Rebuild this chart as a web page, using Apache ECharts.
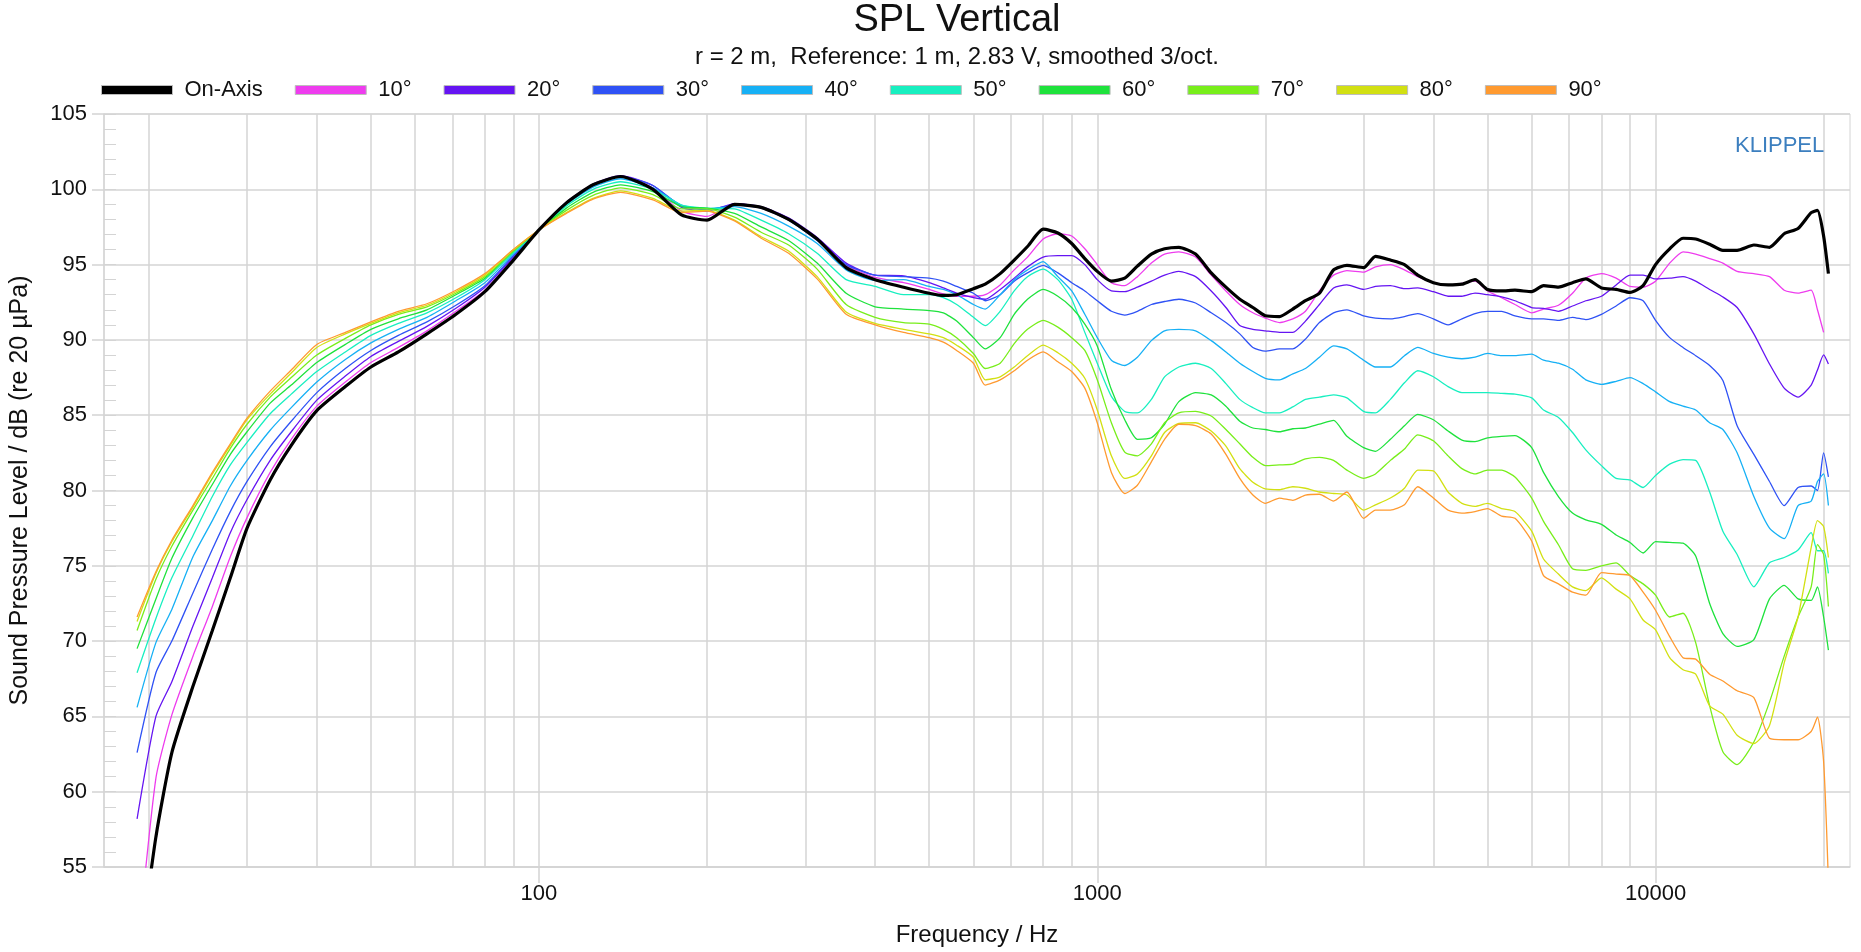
<!DOCTYPE html>
<html>
<head>
<meta charset="utf-8">
<title>SPL Vertical</title>
<script src="https://cdn.jsdelivr.net/npm/echarts@6/dist/echarts.min.js"></script>
<style>
  html, body { margin: 0; padding: 0; background: #fff; }
  #chart { width: 1861px; height: 952px; }
</style>
</head>
<body>
<div id="chart"></div>
<script>
// frequencies (Hz), shared by all curves
const freqs = [
  19.06, 20.6, 22, 24, 26, 28, 30, 33, 36, 40, 45, 50, 56, 63, 71, 80, 90,
  100, 112, 125, 140, 160, 180, 200, 224, 250, 280, 315, 355, 400, 450,
  500, 530, 560, 600, 630, 670, 710, 750, 800, 850, 900, 950, 1000, 1060, 1120, 1180, 1250, 1320, 1400,
  1500, 1600, 1700, 1800, 1900, 2000, 2120, 2240, 2360,
  2500, 2650, 2800, 3000, 3150, 3350, 3550, 3750, 4000, 4250, 4500, 4750, 5000, 5300, 5600, 6000, 6300,
  6700, 7100, 7500, 8000, 8500, 9000, 9500, 10000, 10600, 11200, 11800, 12500, 13200, 14000, 15000,
  16000, 17000, 18000, 19000, 19500, 20000, 20400
];

// SPL in dB, one array per angle
const onAxis = [
  47.7, 57.0, 62.6, 67.0, 70.7, 74.2, 77.5, 80.7, 83.0, 85.3, 86.9, 88.2, 89.2, 90.4, 91.7, 93.2, 95.3,
  97.3, 99.1, 100.3, 100.85, 100.0, 98.3, 97.95, 99.0, 98.8, 98.0, 96.7, 94.8, 94.0, 93.5,
  93.1, 92.95, 93.0, 93.4, 93.7, 94.4, 95.3, 96.2, 97.35, 97.1, 96.4, 95.4, 94.55, 93.9, 94.1, 94.9, 95.7, 96.05, 96.15,
  95.7, 94.45, 93.5, 92.7, 92.15, 91.6, 91.55, 92.05, 92.6,
  93.1, 94.65, 94.95, 94.8, 95.55, 95.3, 95.0, 94.3, 93.8, 93.65, 93.7, 94.0, 93.35, 93.25, 93.3, 93.2,
  93.6, 93.5, 93.8, 94.05, 93.45, 93.35, 93.15, 93.6, 95.0, 96.05, 96.75, 96.7, 96.35, 95.95, 95.95,
  96.3, 96.15, 97.05, 97.4, 98.45, 98.6, 96.9, 94.4
];
const deg10 = [
  49.1, 60.9, 65.1, 69.0, 72.3, 75.6, 78.2, 81.2, 83.4, 85.6, 87.2, 88.5, 89.5, 90.6, 91.9, 93.3, 95.4,
  97.3, 99.1, 100.3, 100.85, 100.1, 98.55, 98.2, 99.05, 98.8, 98.05, 96.75, 94.95, 94.15, 93.8,
  93.35, 93.05, 92.9, 92.9, 93.0, 93.65, 94.65, 95.5, 96.7, 97.05, 96.9, 96.05, 95.0, 93.8, 93.6, 94.2, 95.1, 95.7, 95.85,
  95.5, 94.3, 93.25, 92.35, 91.8, 91.45, 91.15, 91.4, 91.9,
  93.25, 94.3, 94.6, 94.5, 94.85, 95.0, 94.65, 94.2, 93.8, 93.65, 93.75, 93.9, 93.25, 92.8, 92.35, 91.8,
  92.05, 92.3, 93.1, 94.1, 94.4, 94.1, 93.55, 93.5, 93.9, 95.1, 95.85, 95.7, 95.4, 95.1, 94.55,
  94.4, 94.2, 93.3, 93.1, 93.3, 92.0, 90.5
];
const deg20 = [
  58.2, 65.0, 67.3, 71.0, 74.2, 77.2, 79.4, 82.0, 83.9, 86.0, 87.6, 88.9, 89.9, 90.9, 92.1, 93.5, 95.5,
  97.3, 99.15, 100.35, 100.9, 100.25, 98.8, 98.55, 99.05, 98.85, 98.1, 96.8, 95.1, 94.3, 94.25,
  93.8, 93.45, 93.1, 92.8, 92.7, 93.35, 94.1, 94.85, 95.5, 95.6, 95.6, 95.0, 94.0, 93.25, 93.2, 93.5, 93.9, 94.3, 94.55,
  94.2, 93.25, 92.15, 90.95, 90.7, 90.6, 90.5, 90.5, 91.25,
  92.35, 93.45, 93.65, 93.35, 93.55, 93.6, 93.4, 93.45, 93.2, 92.9, 92.9, 93.1, 93.0, 92.85, 92.6, 92.15,
  92.1, 91.9, 92.25, 92.6, 92.9, 93.65, 94.3, 94.3, 94.05, 94.1, 94.2, 93.9, 93.35, 92.85, 92.15,
  90.4, 88.4, 86.8, 86.2, 87.0, 88.0, 89.0, 88.4
];
const deg30 = [
  62.6, 67.9, 70.0, 73.2, 76.1, 78.6, 80.6, 82.9, 84.6, 86.5, 88.1, 89.3, 90.3, 91.2, 92.3, 93.6, 95.6,
  97.3, 99.1, 100.3, 100.85, 100.25, 98.9, 98.65, 98.95, 98.75, 97.95, 96.6, 95.0, 94.3, 94.2,
  94.1, 93.9, 93.55, 93.1, 92.6, 93.0, 93.9, 94.45, 94.95, 94.45, 93.8, 93.25, 92.6, 91.9, 91.65, 91.9, 92.35, 92.55, 92.7,
  92.45, 91.8, 91.15, 90.4, 89.5, 89.25, 89.4, 89.4, 90.05,
  91.15, 91.8, 92.0, 91.6, 91.45, 91.4, 91.55, 91.75, 91.4, 91.0, 91.4, 91.75, 91.9, 91.9, 91.6, 91.4,
  91.4, 91.3, 91.5, 91.35, 91.7, 92.25, 92.8, 92.6, 91.3, 90.15, 89.5, 88.95, 88.3, 87.3, 84.3,
  82.4, 80.6, 79.0, 80.2, 80.3, 80.0, 82.5, 80.9
];
const deg40 = [
  65.6, 69.9, 72.1, 75.6, 78.0, 80.3, 82.0, 84.0, 85.5, 87.2, 88.7, 89.8, 90.7, 91.5, 92.6, 93.8, 95.7,
  97.3, 99.0, 100.15, 100.7, 100.1, 98.95, 98.7, 98.85, 98.4, 97.55, 96.4, 94.65, 93.95, 94.0,
  93.55, 93.35, 93.0, 92.35, 92.05, 93.0, 94.0, 94.65, 95.2, 94.2, 93.25, 91.7, 90.15, 88.65, 88.3, 88.85, 89.95, 90.6, 90.7,
  90.6, 89.95, 89.2, 88.45, 87.9, 87.45, 87.35, 87.75, 88.1,
  88.85, 89.6, 89.4, 88.65, 88.2, 88.2, 88.95, 89.5, 89.1, 88.85, 88.75, 88.85, 89.1, 88.95, 88.95, 89.05,
  88.65, 88.45, 88.05, 87.35, 87.05, 87.25, 87.5, 87.1, 86.55, 85.9, 85.6, 85.35, 84.5, 84.05, 82.5,
  79.6, 77.5, 76.8, 79.0, 79.3, 80.6, 81.1, 79.0
];
const deg50 = [
  67.9, 71.5, 74.2, 77.0, 79.6, 81.7, 83.2, 85.1, 86.4, 87.9, 89.2, 90.3, 91.1, 91.8, 92.8, 94.0, 95.8,
  97.3, 98.9, 100.0, 100.5, 100.0, 98.95, 98.75, 98.7, 97.95, 97.05, 95.75, 94.0, 93.55, 93.0,
  93.0, 92.8, 92.35, 91.5, 90.95, 91.9, 93.25, 94.2, 94.7, 94.0, 92.7, 90.5, 88.45, 86.25, 85.25, 85.15, 86.05, 87.55, 88.2,
  88.45, 88.1, 87.1, 86.05, 85.5, 85.15, 85.15, 85.55, 86.05,
  86.2, 86.35, 86.15, 85.25, 85.15, 86.05, 87.15, 87.95, 87.55, 86.9, 86.5, 86.5, 86.5, 86.45, 86.4, 86.15,
  85.35, 84.85, 83.85, 82.7, 81.65, 80.8, 80.7, 80.2, 81.0, 81.75, 82.05, 82.0, 79.9, 77.3, 75.75,
  73.6, 75.2, 75.55, 76.05, 77.2, 76.0, 76.0, 74.5
];
const deg60 = [
  69.5, 72.8, 75.5, 78.2, 80.4, 82.4, 83.9, 85.8, 87.0, 88.5, 89.7, 90.7, 91.4, 92.0, 93.0, 94.1, 95.9,
  97.3, 98.75, 99.8, 100.3, 99.85, 98.85, 98.75, 98.4, 97.5, 96.6, 95.1, 93.1, 92.2, 92.05,
  91.95, 91.8, 91.25, 90.15, 89.4, 90.15, 91.7, 92.7, 93.35, 92.9, 92.15, 91.05, 89.6, 86.7, 84.7, 83.4, 83.5, 84.4, 85.9,
  86.5, 86.35, 85.6, 84.6, 84.15, 84.05, 83.9, 84.1, 84.15,
  84.4, 84.65, 83.6, 82.85, 82.6, 83.4, 84.3, 85.05, 84.7, 83.95, 83.35, 83.25, 83.5, 83.6, 83.65, 82.85,
  81.2, 79.6, 78.5, 78.05, 77.75, 77.05, 76.55, 75.85, 76.6, 76.55, 76.5, 75.65, 72.5, 70.5, 69.65,
  70.1, 72.8, 73.7, 72.8, 72.7, 73.6, 71.6, 69.4
];
const deg70 = [
  70.7, 74.1, 76.3, 78.7, 80.8, 82.8, 84.4, 86.2, 87.5, 89.0, 90.1, 91.0, 91.7, 92.2, 93.1, 94.2, 95.9,
  97.3, 98.6, 99.6, 100.1, 99.65, 98.7, 98.7, 98.15, 97.15, 96.3, 94.7, 92.35, 91.5, 91.15,
  91.05, 90.7, 90.15, 89.1, 88.1, 88.45, 89.75, 90.7, 91.3, 90.85, 90.15, 89.3, 87.35, 84.5, 82.55, 82.3, 83.1, 84.5, 85.15,
  85.25, 84.95, 84.05, 83.1, 82.2, 81.65, 81.7, 81.75, 82.1,
  82.2, 82.0, 81.35, 80.8, 81.1, 82.0, 82.75, 83.7, 83.3, 82.3, 81.45, 81.1, 81.35, 81.35, 80.9, 79.5,
  77.95, 76.4, 74.8, 74.7, 75.0, 75.2, 74.35, 73.8, 73.05, 71.6, 71.85, 69.9, 65.7, 62.65, 61.8,
  63.3, 65.95, 69.0, 71.6, 73.6, 76.4, 75.75, 72.3
];
const deg80 = [
  71.3, 74.5, 76.6, 78.9, 81.1, 83.0, 84.7, 86.4, 87.8, 89.5, 90.4, 91.1, 91.8, 92.3, 93.2, 94.3, 96.0,
  97.3, 98.45, 99.4, 99.9, 99.4, 98.55, 98.6, 97.95, 96.85, 95.9, 94.2, 91.85, 91.1, 90.7,
  90.4, 90.15, 89.65, 88.85, 87.35, 87.55, 88.2, 88.95, 89.65, 89.15, 88.45, 87.45, 85.35, 82.3, 80.8, 81.1, 82.3, 83.85, 84.45,
  84.5, 83.95, 82.95, 81.45, 80.55, 80.1, 80.05, 80.25, 80.15,
  79.9, 79.8, 79.7, 78.7, 79.05, 79.5, 80.15, 81.35, 81.3, 79.9, 79.15, 78.95, 79.15, 78.8, 78.6, 77.3,
  75.45, 74.45, 73.6, 73.35, 74.2, 73.45, 72.8, 71.4, 70.75, 68.9, 68.1, 67.8, 65.7, 65.15, 63.75,
  63.2, 64.4, 68.55, 71.6, 76.2, 78.0, 77.6, 75.55
];
const deg90 = [
  71.6, 74.6, 76.7, 79.0, 81.2, 83.1, 84.8, 86.6, 88.0, 89.7, 90.5, 91.2, 91.9, 92.4, 93.3, 94.4, 96.0,
  97.3, 98.4, 99.35, 99.8, 99.3, 98.45, 98.55, 97.9, 96.75, 95.75, 94.05, 91.7, 91.0, 90.5,
  90.15, 89.85, 89.3, 88.45, 87.0, 87.35, 87.95, 88.65, 89.2, 88.55, 87.9, 86.8, 84.5, 81.2, 79.8, 80.35, 81.9, 83.4, 84.4,
  84.3, 83.75, 82.4, 80.8, 79.7, 79.15, 79.5, 79.35, 79.7,
  79.75, 79.3, 79.9, 78.15, 78.7, 78.7, 79.05, 80.25, 79.5, 78.7, 78.5, 78.6, 78.8, 78.3, 78.15, 76.65,
  74.35, 73.8, 73.25, 73.05, 74.55, 74.45, 74.35, 73.25, 72.05, 70.3, 68.9, 68.8, 67.8, 67.35, 66.7,
  66.25, 63.55, 63.45, 63.45, 64.0, 64.95, 62.0, 54.0
];

const seriesNames = ['On-Axis', '10°', '20°', '30°', '40°', '50°', '60°', '70°', '80°', '90°'];
const seriesValues = [onAxis, deg10, deg20, deg30, deg40, deg50, deg60, deg70, deg80, deg90];
const seriesColors = ['#000000', '#ee3cee', '#6514f2', '#2f52f5', '#16b0f5', '#18efc0', '#1ee23c', '#78ee1a', '#d2e012', '#ff9a30'];

// log-frequency grid lines and labelled decades
const gridFreqs = [20, 30, 40, 50, 60, 70, 80, 90, 100, 200, 300, 400, 500, 600, 700, 800, 900,
  1000, 2000, 3000, 4000, 5000, 6000, 7000, 8000, 9000, 10000, 20000];
const tickLabels = [100, 1000, 10000];
const freqMin = 16.63;
const freqMax = 22300;

const FONT = '"Liberation Sans", Arial, sans-serif';
const GRID_COLOR = '#d4d4d4';
const lg = Math.log10;

const chart = echarts.init(document.getElementById('chart'), null, { renderer: 'canvas' });

const series = seriesNames.map((name, k) => ({
  name,
  type: 'line',
  xAxisIndex: 0,
  yAxisIndex: 0,
  showSymbol: false,
  smooth: 0.2,
  z: k === 0 ? 5 : 3,
  color: seriesColors[k],
  lineStyle: { width: k === 0 ? 3.2 : 1.3, color: seriesColors[k] },
  data: freqs.map((f, i) => [lg(f), seriesValues[k][i]])
}));

chart.setOption({
  animation: false,
  backgroundColor: '#ffffff',
  title: [
    {
      text: 'SPL Vertical', left: 957, top: 2, textAlign: 'center', padding: 0,
      textStyle: { fontFamily: FONT, fontSize: 38, fontWeight: 'normal', color: '#111' }
    },
    {
      text: 'r = 2 m,  Reference: 1 m, 2.83 V, smoothed 3/oct.', left: 957, top: 45, textAlign: 'center', padding: 0,
      textStyle: { fontFamily: FONT, fontSize: 24, fontWeight: 'normal', color: '#111' }
    },
    {
      text: 'KLIPPEL', left: 1735, top: 135, padding: 0,
      textStyle: { fontFamily: FONT, fontSize: 22, fontWeight: 'normal', color: '#3c7fbf' }
    }
  ],
  legend: {
    left: 101, top: 79, padding: 0,
    icon: 'rect', itemWidth: 71, itemHeight: 9, itemGap: 32,
    itemStyle: { borderColor: '#bdbdbd', borderWidth: 1 },
    textStyle: { fontFamily: FONT, fontSize: 22, color: '#111', padding: [0, 0, 0, 7] },
    data: seriesNames
  },
  grid: {
    left: 100, top: 114, width: 1750, height: 763,
    show: true, borderColor: GRID_COLOR, borderWidth: 1
  },
  xAxis: [
    {
      type: 'value', min: lg(freqMin), max: lg(freqMax),
      axisLine: { show: true, onZero: false, lineStyle: { color: GRID_COLOR, width: 1.5 } },
      axisTick: { show: false, customValues: gridFreqs.map(lg) },
      axisLabel: { show: false },
      splitLine: { show: true, lineStyle: { color: GRID_COLOR, width: 1.5 } }
    },
    {
      type: 'value', min: lg(freqMin), max: lg(freqMax), position: 'bottom',
      axisLine: { show: false, onZero: false },
      axisTick: { show: true, length: 16, customValues: tickLabels.map(lg), lineStyle: { color: GRID_COLOR, width: 1.5 } },
      axisLabel: {
        customValues: tickLabels.map(lg), margin: 16,
        fontFamily: FONT, fontSize: 22, color: '#111',
        formatter: v => String(Math.round(Math.pow(10, v)))
      },
      splitLine: { show: false },
      name: 'Frequency / Hz', nameLocation: 'middle', nameGap: 56,
      nameTextStyle: { fontFamily: FONT, fontSize: 24, color: '#111' }
    }
  ],
  yAxis: [
    {
      type: 'value', min: 55, max: 105, interval: 5,
      axisLine: { show: true, lineStyle: { color: GRID_COLOR, width: 1.5 } },
      axisTick: { show: true, length: 12, lineStyle: { color: GRID_COLOR, width: 1.5 } },
      axisLabel: { margin: 17, fontFamily: FONT, fontSize: 22, color: '#111' },
      splitLine: { show: true, lineStyle: { color: GRID_COLOR, width: 1.5 } },
      name: 'Sound Pressure Level / dB (re 20 µPa)', nameLocation: 'middle', nameGap: 71, nameRotate: 90,
      nameTextStyle: { fontFamily: FONT, fontSize: 25, color: '#111' }
    },
    {
      type: 'value', min: 55, max: 105, interval: 1, position: 'left',
      axisLine: { show: false },
      axisTick: { show: true, inside: true, length: 12, lineStyle: { color: GRID_COLOR, width: 1 } },
      axisLabel: { show: false },
      splitLine: { show: false }
    }
  ],
  series
});
</script>
</body>
</html>
